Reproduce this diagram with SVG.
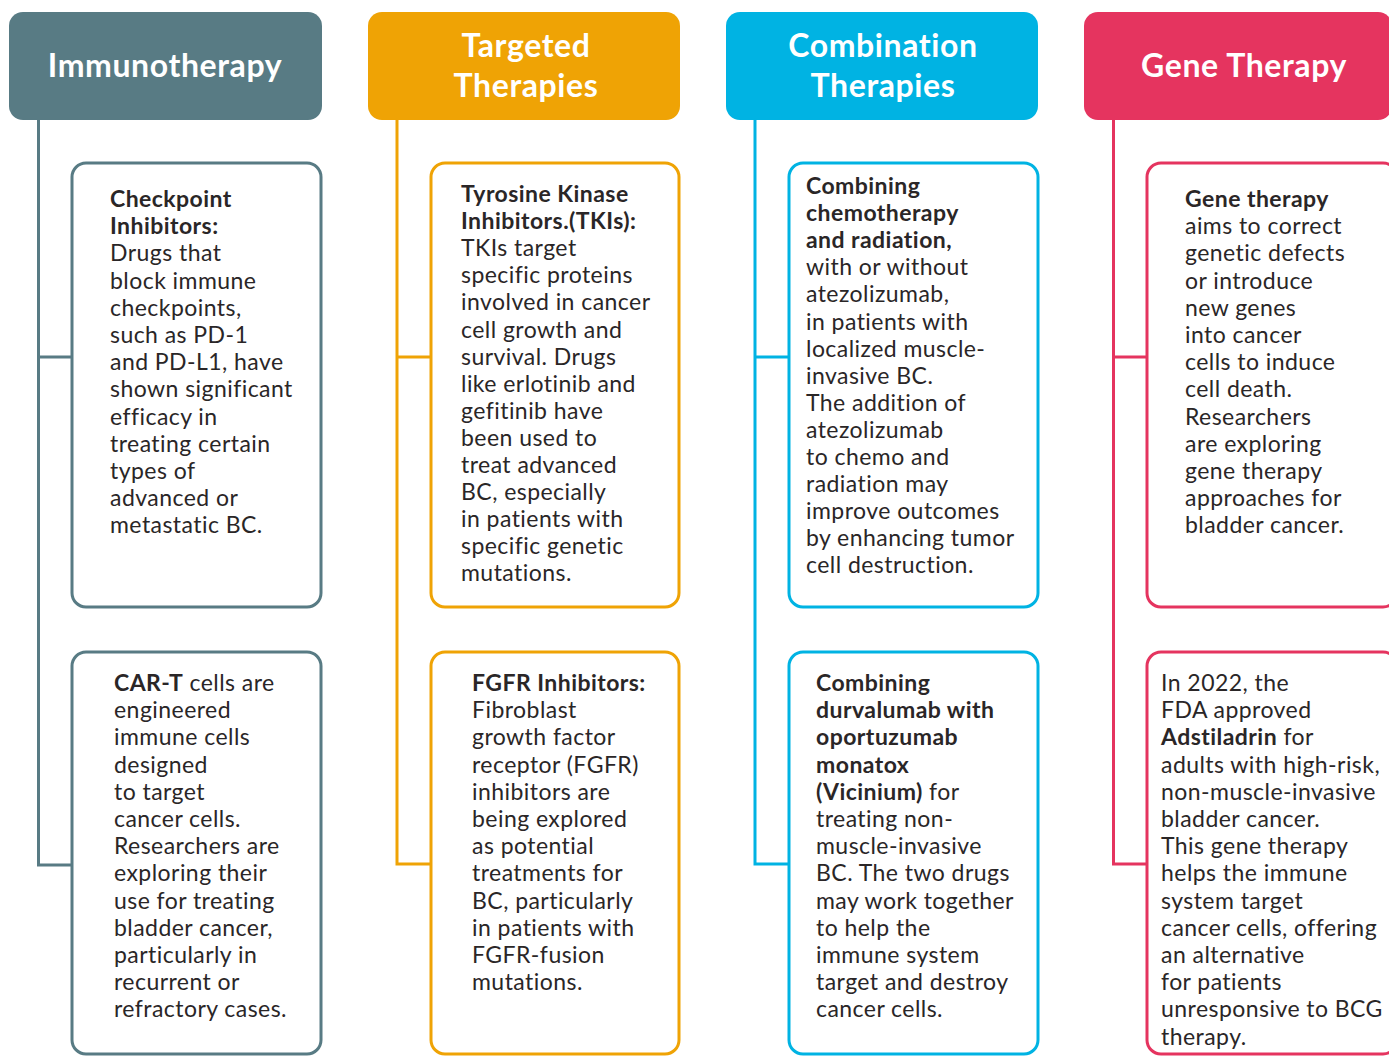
<svg xmlns="http://www.w3.org/2000/svg" width="1389" height="1057" viewBox="0 0 1389 1057">
  <style>
    .hdr { font-family: Lato, "Noto Sans", sans-serif; font-weight: 700; font-size: 32px; letter-spacing: 0.6px; fill: #ffffff; text-anchor: middle; }
    .body { font-family: Lato, "Noto Sans", sans-serif; font-size: 23px; letter-spacing: 0.45px; fill: #2a2627; }
    .b { font-weight: 700; }
    .card { fill: #ffffff; stroke-width: 3; }
    .wire { fill: none; stroke-width: 3; }
    .teal { fill: #587b84; } .orange { fill: #efa305; } .cyan { fill: #00b3e3; } .pink { fill: #e5345f; }
    .s-teal { stroke: #587b84; } .s-orange { stroke: #efa305; } .s-cyan { stroke: #00b3e3; } .s-pink { stroke: #e5345f; }
  </style>
  <rect width="1389" height="1057" fill="#ffffff"/>

  <!-- branch lines from each header to its two cards -->
  <g id="connectors">
    <path class="wire s-teal" d="M38.5 120 V865 H72 M38.5 357 H72"/>
    <path class="wire s-orange" d="M397 120 V864 H431 M397 357 H431"/>
    <path class="wire s-cyan" d="M755 120 V864 H789 M755 357 H789"/>
    <path class="wire s-pink" d="M1113.5 120 V864 H1147 M1113.5 357 H1147"/>
  </g>

  <!-- column headers -->
  <g id="hdr-immuno">
    <rect class="teal" x="9" y="12" width="313" height="108" rx="14"/>
    <text class="hdr" x="165" y="77">Immunotherapy</text>
  </g>
  <g id="hdr-targeted">
    <rect class="orange" x="368" y="12" width="312" height="108" rx="14"/>
    <text class="hdr" x="526" y="57">Targeted</text>
    <text class="hdr" x="526" y="97">Therapies</text>
  </g>
  <g id="hdr-combination">
    <rect class="cyan" x="726" y="12" width="312" height="108" rx="14"/>
    <text class="hdr" x="883" y="57">Combination</text>
    <text class="hdr" x="883" y="97">Therapies</text>
  </g>
  <g id="hdr-gene">
    <rect class="pink" x="1084" y="12" width="308" height="108" rx="14"/>
    <text class="hdr" x="1244" y="77">Gene Therapy</text>
  </g>

  <!-- Immunotherapy cards -->
  <g id="card-checkpoint">
    <rect class="card s-teal" x="72" y="163" width="249" height="444" rx="14"/>
    <text class="body" x="110" y="207">
      <tspan class="b" x="110">Checkpoint</tspan>
      <tspan class="b" x="110" dy="27.2">Inhibitors:</tspan>
      <tspan x="110" dy="27.2">Drugs that</tspan>
      <tspan x="110" dy="27.2">block immune</tspan>
      <tspan x="110" dy="27.2">checkpoints,</tspan>
      <tspan x="110" dy="27.2">such as PD-1</tspan>
      <tspan x="110" dy="27.2">and PD-L1, have</tspan>
      <tspan x="110" dy="27.2">shown significant</tspan>
      <tspan x="110" dy="27.2">efficacy in</tspan>
      <tspan x="110" dy="27.2">treating certain</tspan>
      <tspan x="110" dy="27.2">types of</tspan>
      <tspan x="110" dy="27.2">advanced or</tspan>
      <tspan x="110" dy="27.2">metastatic BC.</tspan>
    </text>
  </g>
  <g id="card-cart">
    <rect class="card s-teal" x="72" y="652" width="249" height="402" rx="14"/>
    <text class="body" x="114" y="691">
      <tspan x="114"><tspan class="b">CAR-T</tspan> cells are</tspan>
      <tspan x="114" dy="27.2">engineered</tspan>
      <tspan x="114" dy="27.2">immune cells</tspan>
      <tspan x="114" dy="27.2">designed</tspan>
      <tspan x="114" dy="27.2">to target</tspan>
      <tspan x="114" dy="27.2">cancer cells.</tspan>
      <tspan x="114" dy="27.2">Researchers are</tspan>
      <tspan x="114" dy="27.2">exploring their</tspan>
      <tspan x="114" dy="27.2">use for treating</tspan>
      <tspan x="114" dy="27.2">bladder cancer,</tspan>
      <tspan x="114" dy="27.2">particularly in</tspan>
      <tspan x="114" dy="27.2">recurrent or</tspan>
      <tspan x="114" dy="27.2">refractory cases.</tspan>
    </text>
  </g>

  <!-- Targeted therapy cards -->
  <g id="card-tki">
    <rect class="card s-orange" x="431" y="163" width="248" height="444" rx="14"/>
    <text class="body" x="461" y="202">
      <tspan class="b" x="461">Tyrosine Kinase</tspan>
      <tspan class="b" x="461" dy="27.1">Inhibitors.(TKIs):</tspan>
      <tspan x="461" dy="27.1">TKIs target</tspan>
      <tspan x="461" dy="27.1">specific proteins</tspan>
      <tspan x="461" dy="27.1">involved in cancer</tspan>
      <tspan x="461" dy="27.1">cell growth and</tspan>
      <tspan x="461" dy="27.1">survival. Drugs</tspan>
      <tspan x="461" dy="27.1">like erlotinib and</tspan>
      <tspan x="461" dy="27.1">gefitinib have</tspan>
      <tspan x="461" dy="27.1">been used to</tspan>
      <tspan x="461" dy="27.1">treat advanced</tspan>
      <tspan x="461" dy="27.1">BC, especially</tspan>
      <tspan x="461" dy="27.1">in patients with</tspan>
      <tspan x="461" dy="27.1">specific genetic</tspan>
      <tspan x="461" dy="27.1">mutations.</tspan>
    </text>
  </g>
  <g id="card-fgfr">
    <rect class="card s-orange" x="431" y="652" width="248" height="402" rx="14"/>
    <text class="body" x="472" y="691">
      <tspan class="b" x="472">FGFR Inhibitors:</tspan>
      <tspan x="472" dy="27.2">Fibroblast</tspan>
      <tspan x="472" dy="27.2">growth factor</tspan>
      <tspan x="472" dy="27.2">receptor (FGFR)</tspan>
      <tspan x="472" dy="27.2">inhibitors are</tspan>
      <tspan x="472" dy="27.2">being explored</tspan>
      <tspan x="472" dy="27.2">as potential</tspan>
      <tspan x="472" dy="27.2">treatments for</tspan>
      <tspan x="472" dy="27.2">BC, particularly</tspan>
      <tspan x="472" dy="27.2">in patients with</tspan>
      <tspan x="472" dy="27.2">FGFR-fusion</tspan>
      <tspan x="472" dy="27.2">mutations.</tspan>
    </text>
  </g>

  <!-- Combination therapy cards -->
  <g id="card-chemorad">
    <rect class="card s-cyan" x="789" y="163" width="249" height="444" rx="14"/>
    <text class="body" x="806" y="194">
      <tspan class="b" x="806">Combining</tspan>
      <tspan class="b" x="806" dy="27.1">chemotherapy</tspan>
      <tspan class="b" x="806" dy="27.1">and radiation,</tspan>
      <tspan x="806" dy="27.1">with or without</tspan>
      <tspan x="806" dy="27.1">atezolizumab,</tspan>
      <tspan x="806" dy="27.1">in patients with</tspan>
      <tspan x="806" dy="27.1">localized muscle-</tspan>
      <tspan x="806" dy="27.1">invasive BC.</tspan>
      <tspan x="806" dy="27.1">The addition of</tspan>
      <tspan x="806" dy="27.1">atezolizumab</tspan>
      <tspan x="806" dy="27.1">to chemo and</tspan>
      <tspan x="806" dy="27.1">radiation may</tspan>
      <tspan x="806" dy="27.1">improve outcomes</tspan>
      <tspan x="806" dy="27.1">by enhancing tumor</tspan>
      <tspan x="806" dy="27.1">cell destruction.</tspan>
    </text>
  </g>
  <g id="card-durvalumab">
    <rect class="card s-cyan" x="789" y="652" width="249" height="402" rx="14"/>
    <text class="body" x="816" y="691">
      <tspan class="b" x="816">Combining</tspan>
      <tspan class="b" x="816" dy="27.2">durvalumab with</tspan>
      <tspan class="b" x="816" dy="27.2">oportuzumab</tspan>
      <tspan class="b" x="816" dy="27.2">monatox</tspan>
      <tspan x="816" dy="27.2"><tspan class="b">(Vicinium)</tspan> for</tspan>
      <tspan x="816" dy="27.2">treating non-</tspan>
      <tspan x="816" dy="27.2">muscle-invasive</tspan>
      <tspan x="816" dy="27.2">BC. The two drugs</tspan>
      <tspan x="816" dy="27.2">may work together</tspan>
      <tspan x="816" dy="27.2">to help the</tspan>
      <tspan x="816" dy="27.2">immune system</tspan>
      <tspan x="816" dy="27.2">target and destroy</tspan>
      <tspan x="816" dy="27.2">cancer cells.</tspan>
    </text>
  </g>

  <!-- Gene therapy cards -->
  <g id="card-gene">
    <rect class="card s-pink" x="1147" y="163" width="250" height="444" rx="14"/>
    <text class="body" x="1185" y="207">
      <tspan class="b" x="1185">Gene therapy</tspan>
      <tspan x="1185" dy="27.2">aims to correct</tspan>
      <tspan x="1185" dy="27.2">genetic defects</tspan>
      <tspan x="1185" dy="27.2">or introduce</tspan>
      <tspan x="1185" dy="27.2">new genes</tspan>
      <tspan x="1185" dy="27.2">into cancer</tspan>
      <tspan x="1185" dy="27.2">cells to induce</tspan>
      <tspan x="1185" dy="27.2">cell death.</tspan>
      <tspan x="1185" dy="27.2">Researchers</tspan>
      <tspan x="1185" dy="27.2">are exploring</tspan>
      <tspan x="1185" dy="27.2">gene therapy</tspan>
      <tspan x="1185" dy="27.2">approaches for</tspan>
      <tspan x="1185" dy="27.2">bladder cancer.</tspan>
    </text>
  </g>
  <g id="card-adstiladrin">
    <rect class="card s-pink" x="1147" y="652" width="250" height="402" rx="14"/>
    <text class="body" x="1161" y="691">
      <tspan x="1161">In 2022, the</tspan>
      <tspan x="1161" dy="27.2">FDA approved</tspan>
      <tspan x="1161" dy="27.2"><tspan class="b">Adstiladrin</tspan> for</tspan>
      <tspan x="1161" dy="27.2">adults with high-risk,</tspan>
      <tspan x="1161" dy="27.2">non-muscle-invasive</tspan>
      <tspan x="1161" dy="27.2">bladder cancer.</tspan>
      <tspan x="1161" dy="27.2">This gene therapy</tspan>
      <tspan x="1161" dy="27.2">helps the immune</tspan>
      <tspan x="1161" dy="27.2">system target</tspan>
      <tspan x="1161" dy="27.2">cancer cells, offering</tspan>
      <tspan x="1161" dy="27.2">an alternative</tspan>
      <tspan x="1161" dy="27.2">for patients</tspan>
      <tspan x="1161" dy="27.2">unresponsive to BCG</tspan>
      <tspan x="1161" dy="27.2">therapy.</tspan>
    </text>
  </g>
</svg>
